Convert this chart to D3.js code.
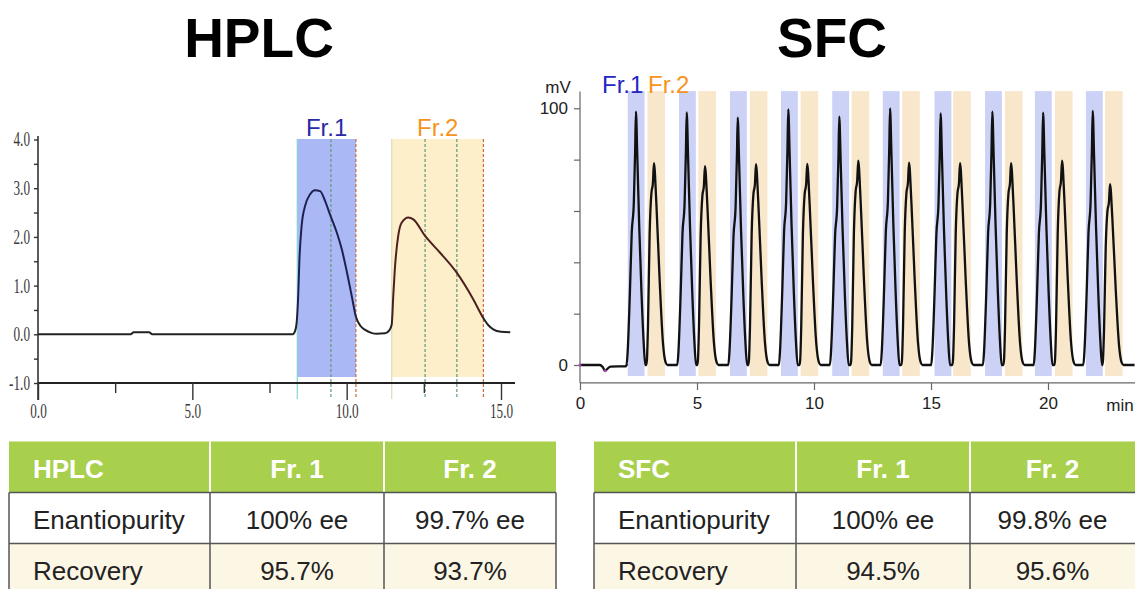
<!DOCTYPE html>
<html>
<head>
<meta charset="utf-8">
<script src="https://cdn.jsdelivr.net/npm/d3@7"></script>
<style>
body { margin: 0; background: #fff; }
text { font-family: "Liberation Sans", Arial, Helvetica, sans-serif; }
</style>
</head>
<body>
<svg id="chart" width="1135" height="589"></svg>
<script>

// ---- HPLC chromatogram (min, signal)
var hplcTime   = [0, 3.0, 3.1, 3.6, 3.7, 8.25, 8.33, 8.38, 8.43, 8.47, 8.54, 8.65, 8.81, 8.97, 9.14,
                  9.3, 9.46, 9.68, 9.84, 10.0, 10.16, 10.3, 10.45, 10.6, 10.8, 10.97, 11.25, 11.38,
                  11.46, 11.51, 11.56, 11.67, 11.78, 12.0, 12.16, 12.54, 13.02, 13.56, 14.1, 14.43,
                  14.6, 14.75, 15.0, 15.3];
var hplcSignal = [0, 0, 0.04, 0.04, 0, 0, 0.07, 0.24, 0.79, 1.54, 2.22, 2.63, 2.87, 2.96, 2.94,
                  2.74, 2.46, 2.09, 1.75, 1.30, 0.80, 0.36, 0.17, 0.09, 0.03, 0.01, 0.02, 0.08,
                  0.20, 0.79, 1.33, 2.02, 2.29, 2.40, 2.36, 2.02, 1.68, 1.27, 0.72, 0.33,
                  0.18, 0.10, 0.05, 0.04];
var hplcFr1 = [8.40, 10.30];
var hplcFr2 = [11.46, 14.43];
var hplcCuts = [9.49, 12.54, 13.57];          // green dashed marks inside the fractions
var hplcYTicks = [-1, -0.5, 0, 0.5, 1, 1.5, 2, 2.5, 3, 3.5, 4];
var hplcXMajor = [0, 5, 10, 15];
var hplcXMinor = [2.5, 7.5, 12.5];

// ---- SFC stacked injections
var sfcFr1Time   = [2.39, 4.56, 6.74, 8.90, 11.08, 13.25, 15.41, 17.62, 19.79, 21.91];
var sfcFr1Height = [98.7, 98.4, 96.4, 99.6, 96.7, 100, 98.0, 98.7, 98.3, 99.0];
var sfcFr2Time   = [3.16, 5.34, 7.52, 9.71, 11.89, 14.06, 16.24, 18.42, 20.60, 22.65];
var sfcFr2Height = [78.6, 77.5, 78.2, 78.3, 79.6, 78.8, 78.6, 78.6, 79.6, 70.5];
var sfcFr1Start  = [2.04, 4.23, 6.41, 8.59, 10.78, 12.94, 15.15, 17.31, 19.44, 21.62];
var sfcFr2Start  = [2.88, 5.06, 7.26, 9.43, 11.61, 13.77, 15.95, 18.16, 20.30, 22.44];
var sfcFr1Width  = 0.72;
var sfcFr2Width  = 0.75;
// peak outlines relative to apex (min offset, share of apex height)
var fr1Shape = [[-0.40, 0], [-0.355, 0.05], [-0.256, 0.29], [-0.18, 0.52], [-0.09, 0.64], [-0.035, 0.84],
                [0, 1], [0.06, 0.82], [0.14, 0.55], [0.24, 0.28], [0.33, 0.09], [0.40, 0]];
var fr2Shape = [[-0.33, 0], [-0.30, 0.025], [-0.256, 0.19], [-0.184, 0.65], [-0.11, 0.85], [-0.045, 0.90],
                [0, 1], [0.10, 0.81], [0.24, 0.43], [0.385, 0.11], [0.50, 0.013], [0.58, 0]];
var sfcLead = [[0, 0], [0.85, 0], [0.97, -0.8], [1.07, -2.2], [1.18, -1.4], [1.3, -0.6], [1.95, -0.5], [2.0, 0]];
var sfcEnd = 23.7;
var sfcXTicks = [0, 5, 10, 15, 20];
var sfcYTicks = [0, 20, 40, 60, 80, 100];

// ---- result tables
var tableCols = ["Fr. 1", "Fr. 2"];
var rowLabels = ["Enantiopurity", "Recovery"];
var hplcResults = [["100% ee", "99.7% ee"], ["95.7%", "93.7%"]];
var sfcResults  = [["100% ee", "99.8% ee"], ["94.5%", "95.6%"]];

var blueText = "#2626c4", orangeText = "#f7941d";

var svg = d3.select("#chart");
var defs = svg.append("defs");

// titles
svg.append("text").attr("x", 259).attr("y", 57).attr("text-anchor", "middle")
    .attr("font-size", 55).attr("font-weight", "bold").attr("fill", "#000").text("HPLC");
svg.append("text").attr("x", 832).attr("y", 57).attr("text-anchor", "middle")
    .attr("font-size", 55).attr("font-weight", "bold").attr("fill", "#000").text("SFC");

// =================== HPLC ===================
var xH = d3.scaleLinear().domain([0, 15]).range([38, 501]);
var yH = d3.scaleLinear().domain([-1, 4]).range([383, 139.5]);
var gH = svg.append("g");

gH.append("rect").attr("x", xH(hplcFr1[0])).attr("width", xH(hplcFr1[1]) - xH(hplcFr1[0]))
    .attr("y", 139).attr("height", 377 - 139).attr("fill", "#aab8f5");
gH.append("rect").attr("x", xH(hplcFr2[0])).attr("width", xH(hplcFr2[1]) - xH(hplcFr2[0]))
    .attr("y", 139).attr("height", 377 - 139).attr("fill", "#fdefca");

// fraction start / cut / end marks
function vmark(t, col, dash) {
    gH.append("line").attr("x1", xH(t)).attr("x2", xH(t)).attr("y1", 139).attr("y2", 399)
        .attr("stroke", col).attr("stroke-width", 1.2).attr("stroke-dasharray", dash);
}
vmark(hplcFr1[0], "#86d3d6", null);
vmark(hplcFr2[0], "#d9dcb8", null);
hplcCuts.forEach(function(t) { vmark(t, "#5f9a74", "3,2"); });
vmark(hplcFr1[1], "#d0693c", "3,2");
vmark(hplcFr2[1], "#d0693c", "3,2");

// axes
gH.append("line").attr("x1", xH(0)).attr("x2", xH(0)).attr("y1", yH(4.07)).attr("y2", 400)
    .attr("stroke", "#333").attr("stroke-width", 1.6);
gH.append("line").attr("x1", xH(0)).attr("x2", 515).attr("y1", yH(-1)).attr("y2", yH(-1))
    .attr("stroke", "#222").attr("stroke-width", 2);

function fmtH(d) { return d.toFixed(1); }   // plain hyphen for -1.0, as on the instrument print
var yAxisH = d3.axisLeft(yH).tickValues(hplcYTicks).tickSize(4).tickPadding(4)
    .tickFormat(function(d) { return d % 1 === 0 ? fmtH(d) : ""; });
var gyH = gH.append("g").attr("transform", "translate(" + xH(0) + ",0)").call(yAxisH)
    .call(function(g) { g.select(".domain").remove(); });

var xMajH = d3.axisBottom(xH).tickValues(hplcXMajor).tickSize(17).tickPadding(6).tickFormat(fmtH);
var gxH = gH.append("g").attr("transform", "translate(0," + yH(-1) + ")").call(xMajH)
    .call(function(g) { g.select(".domain").remove(); });
var xMinH = d3.axisBottom(xH).tickValues(hplcXMinor).tickSize(10).tickFormat("");
gH.append("g").attr("transform", "translate(0," + yH(-1) + ")").call(xMinH)
    .call(function(g) { g.select(".domain").remove(); });

gH.selectAll(".tick line").attr("stroke", "#333").attr("stroke-width", 1.4);
// tall, narrow instrument-print lettering
var squeeze = 0.66;
gH.selectAll(".tick text").attr("fill", "#3a3a3a").attr("font-size", 20)
    .style("font-family", "'Liberation Serif', 'DejaVu Serif', serif")
    .attr("transform", "scale(" + squeeze + ",1)");
gyH.selectAll(".tick text").attr("x", -8 / squeeze);
gxH.selectAll(".tick text").attr("dy", "0.62em");

// trace, tinted where it crosses each fraction band
var grad = defs.append("linearGradient").attr("id", "hplcStroke")
    .attr("gradientUnits", "userSpaceOnUse")
    .attr("x1", xH(0)).attr("x2", xH(15.3)).attr("y1", 0).attr("y2", 0);
function off(t) { return t / 15.3; }
[[0, "#222"], [off(hplcFr1[0]), "#222"], [off(hplcFr1[0]), "#1d2150"], [off(hplcFr1[1]), "#1d2150"],
 [off(hplcFr1[1]), "#222"], [off(hplcFr2[0]), "#222"], [off(hplcFr2[0]), "#4d2020"],
 [off(hplcFr2[1]), "#4d2020"], [off(hplcFr2[1]), "#222"], [1, "#222"]].forEach(function(s) {
    grad.append("stop").attr("offset", s[0]).attr("stop-color", s[1]);
});

var lineH = d3.line().x(function(d) { return xH(d[0]); }).y(function(d) { return yH(d[1]); })
    .curve(d3.curveMonotoneX);
gH.append("path").datum(d3.zip(hplcTime, hplcSignal)).attr("d", lineH)
    .attr("fill", "none").attr("stroke", "url(#hplcStroke)").attr("stroke-width", 2);

gH.append("text").attr("x", xH(d3.mean(hplcFr1))).attr("y", 136).attr("text-anchor", "middle")
    .attr("font-size", 24).attr("fill", "#2a2aa6").text("Fr.1");
gH.append("text").attr("x", xH(12.95)).attr("y", 136).attr("text-anchor", "middle")
    .attr("font-size", 24).attr("fill", orangeText).text("Fr.2");

// =================== SFC ===================
var xS = d3.scaleLinear().domain([0, 20]).range([580, 1048]);
var yS = d3.scaleLinear().domain([0, 100]).range([365, 108.3]);
var gS = svg.append("g");

gS.selectAll("rect.fr1").data(sfcFr1Start).enter().append("rect").attr("class", "fr1")
    .attr("x", function(d) { return xS(d); })
    .attr("width", function(d) { return xS(d + sfcFr1Width) - xS(d); })
    .attr("y", yS(106.7)).attr("height", yS(-4.3) - yS(106.7)).attr("fill", "#cbd2f5");
gS.selectAll("rect.fr2").data(sfcFr2Start).enter().append("rect").attr("class", "fr2")
    .attr("x", function(d) { return xS(d); })
    .attr("width", function(d) { return xS(d + sfcFr2Width) - xS(d); })
    .attr("y", yS(106.7)).attr("height", yS(-4.3) - yS(106.7)).attr("fill", "#f8e7cb");

// axes
gS.append("line").attr("x1", xS(0)).attr("x2", xS(0)).attr("y1", yS(106.5)).attr("y2", yS(-7))
    .attr("stroke", "#666").attr("stroke-width", 1.2);
gS.append("line").attr("x1", xS(0)).attr("x2", 1135).attr("y1", yS(-7)).attr("y2", yS(-7))
    .attr("stroke", "#666").attr("stroke-width", 1.2);

var yAxisS = d3.axisLeft(yS).tickValues(sfcYTicks).tickSize(6).tickPadding(6)
    .tickFormat(function(d) { return (d === 0 || d === 100) ? d : ""; });
gS.append("g").attr("transform", "translate(" + xS(0) + ",0)").call(yAxisS)
    .call(function(g) { g.select(".domain").remove(); });
var xAxisS = d3.axisBottom(xS).tickValues(sfcXTicks).tickSize(7).tickPadding(7);
gS.append("g").attr("transform", "translate(0," + yS(-7) + ")").call(xAxisS)
    .call(function(g) { g.select(".domain").remove(); });
gS.selectAll(".tick line").attr("stroke", "#666").attr("stroke-width", 1.2);
gS.selectAll(".tick text").attr("fill", "#222").attr("font-size", 17)
    .style("font-family", "'Liberation Sans', Arial, sans-serif");

gS.append("text").attr("x", 1120).attr("y", 411).attr("text-anchor", "middle")
    .attr("font-size", 17).attr("fill", "#222").text("min");
gS.append("text").attr("x", 558).attr("y", 93).attr("text-anchor", "middle")
    .attr("font-size", 17).attr("fill", "#222").text("mV");

// trace
var sfcTrace = sfcLead.slice();
sfcFr1Time.forEach(function(t, i) {
    fr1Shape.forEach(function(p) { sfcTrace.push([t + p[0], sfcFr1Height[i] * p[1]]); });
    fr2Shape.forEach(function(p) { sfcTrace.push([sfcFr2Time[i] + p[0], sfcFr2Height[i] * p[1]]); });
});
sfcTrace.push([sfcEnd, 0]);

var lineS = d3.line().x(function(d) { return xS(d[0]); }).y(function(d) { return yS(d[1]); })
    .curve(d3.curveMonotoneX);
gS.append("path").datum(sfcTrace).attr("d", lineS)
    .attr("fill", "none").attr("stroke", "#111").attr("stroke-width", 2.3).attr("stroke-linejoin", "round");

gS.append("circle").attr("cx", xS(0)).attr("cy", yS(0)).attr("r", 1.5).attr("fill", "#b040c0");
gS.append("circle").attr("cx", xS(1.07)).attr("cy", yS(-2.2)).attr("r", 1.5).attr("fill", "#b040c0");

gS.append("text").attr("x", 602).attr("y", 93).attr("font-size", 24).attr("fill", blueText).text("Fr.1");
gS.append("text").attr("x", 648).attr("y", 93).attr("font-size", 24).attr("fill", orangeText).text("Fr.2");

// =================== tables ===================
function drawTable(x0, colW, head, vals, rightEdge) {
    var g = svg.append("g");
    var xs = [x0, x0 + colW[0], x0 + colW[0] + colW[1]];
    var total = d3.sum(colW);
    var rowY = [441.5, 492.5, 543.5];
    g.append("rect").attr("x", x0).attr("y", rowY[0]).attr("width", total).attr("height", 51).attr("fill", "#a9d04c");
    g.append("rect").attr("x", x0).attr("y", rowY[1]).attr("width", total).attr("height", 51).attr("fill", "#fff");
    g.append("rect").attr("x", x0).attr("y", rowY[2]).attr("width", total).attr("height", 50).attr("fill", "#fcf6e5");

    [xs[1], xs[2]].forEach(function(x) {
        g.append("line").attr("x1", x).attr("x2", x).attr("y1", rowY[0]).attr("y2", rowY[1])
            .attr("stroke", "#fff").attr("stroke-width", 2);
    });
    var vx = [xs[0], xs[1], xs[2]];
    if (rightEdge) vx.push(x0 + total);
    vx.forEach(function(x) {
        g.append("line").attr("x1", x).attr("x2", x).attr("y1", rowY[1]).attr("y2", 589)
            .attr("stroke", "#555").attr("stroke-width", 1.5);
    });
    [rowY[1], rowY[2]].forEach(function(y) {
        g.append("line").attr("x1", x0).attr("x2", x0 + total).attr("y1", y).attr("y2", y)
            .attr("stroke", "#555").attr("stroke-width", 1.3);
    });

    g.append("text").attr("x", x0 + 24).attr("y", 478).attr("font-size", 26).attr("font-weight", "bold")
        .attr("fill", "#fff").text(head);
    tableCols.forEach(function(c, j) {
        g.append("text").attr("x", xs[j + 1] + colW[j + 1] / 2).attr("y", 478).attr("text-anchor", "middle")
            .attr("font-size", 26).attr("font-weight", "bold").attr("fill", "#fff").text(c);
    });
    var base = [529, 580];
    rowLabels.forEach(function(r, i) {
        g.append("text").attr("x", x0 + 24).attr("y", base[i]).attr("font-size", 26).attr("fill", "#222").text(r);
        vals[i].forEach(function(v, j) {
            g.append("text").attr("x", xs[j + 1] + colW[j + 1] / 2).attr("y", base[i]).attr("text-anchor", "middle")
                .attr("font-size", 26).attr("fill", "#222").text(v);
        });
    });
}
drawTable(9, [201, 174, 172], "HPLC", hplcResults, true);
drawTable(594, [202, 174, 165], "SFC", sfcResults, false);

</script>
</body>
</html>
